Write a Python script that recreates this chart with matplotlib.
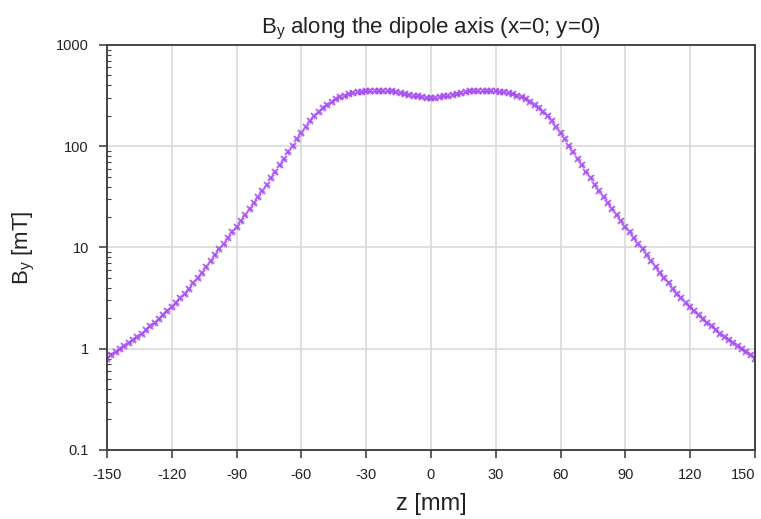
import numpy as np
import matplotlib.pyplot as plt
from matplotlib.ticker import NullFormatter, LogLocator

plt.rcParams['font.family'] = ['Liberation Sans', 'DejaVu Sans']
plt.rcParams['mathtext.fontset'] = 'custom'
plt.rcParams['mathtext.rm'] = 'Liberation Sans'
plt.rcParams['mathtext.it'] = 'Liberation Sans'

# z position [mm], 2 mm steps
z = np.arange(-150, 151, 2)

# By [mT]
by = [
    0.80, 0.86, 0.92, 0.99, 1.06, 1.13, 1.22, 1.31, 1.41, 1.53,
    1.66, 1.80, 1.96, 2.14, 2.34, 2.57, 2.84, 3.15, 3.51, 3.93,
    4.42, 4.99, 5.66, 6.46, 7.40, 8.49, 9.6, 10.9, 12.4, 14.1,
    16.0, 18.3, 20.9, 23.9, 27.4, 31.4, 36.1, 41.7, 48.2, 55.8,
    64.7, 75.2, 87.3, 101.4, 117.5, 136, 156, 177, 198, 219,
    239, 258, 275, 290, 303, 316, 326, 334, 341, 347,
    351, 353, 355, 355, 354, 352, 348, 343, 337, 330,
    323, 316, 310, 305, 301,
    300,
    301, 305, 310, 316, 323, 330, 337, 343, 348, 352,
    354, 355, 355, 353, 351, 347, 341, 334, 326, 316,
    303, 290, 275, 258, 239, 219, 198, 177, 156, 136,
    117.5, 101.4, 87.3, 75.2, 64.7, 55.8, 48.2, 41.7, 36.1, 31.4,
    27.4, 23.9, 20.9, 18.3, 16.0, 14.1, 12.4, 10.9, 9.6, 8.49,
    7.40, 6.46, 5.66, 4.99, 4.42, 3.93, 3.51, 3.15, 2.84, 2.57,
    2.34, 2.14, 1.96, 1.80, 1.66, 1.53, 1.41, 1.31, 1.22, 1.13,
    1.06, 0.99, 0.92, 0.86, 0.80,
]

xticks = [-150, -120, -90, -60, -30, 0, 30, 60, 90, 120, 150]
yticks = [0.1, 1, 10, 100, 1000]
ytick_labels = ['0.1', '1', '10', '100', '1000']

fig = plt.figure(figsize=(7.61, 5.19), dpi=100)
ax = fig.add_axes([0.1406, 0.133, 0.8514, 0.7803])

ax.plot(z, by, linestyle='none', marker='x', markersize=4.5, markeredgewidth=1.4,
        color='#a040f0', alpha=0.8)
ax.plot(z, by, linestyle='none', marker='+', markersize=4, markeredgewidth=0.8,
        color='#a040f0', alpha=0.5)

ax.set_yscale('log')
ax.set_xlim(-150, 150)
ax.set_ylim(0.1, 1000)
ax.set_xticks(xticks)
ax.set_xticklabels([str(t) for t in xticks])
ax.set_yticks(yticks)
ax.set_yticklabels(ytick_labels)
ax.yaxis.set_minor_locator(LogLocator(base=10, subs=np.arange(2, 10)))
ax.yaxis.set_minor_formatter(NullFormatter())

ax.grid(True, which='major', color='#d9d9d9', linewidth=1.2)
ax.set_axisbelow(True)

for s in ax.spines.values():
    s.set_color('#444444')
    s.set_linewidth(1.4)

ax.tick_params(axis='both', which='major', direction='out', length=6, width=1.2,
               color='#444444', labelsize=10.5, labelcolor='#222222', pad=7)
ax.tick_params(axis='y', which='minor', direction='in', length=3, width=0.8, color='#444444')
ax.get_xticklabels()[-1].set_horizontalalignment('right')

ax.set_title('B$_\\mathrm{y}$ along the dipole axis (x=0; y=0)', fontsize=16, pad=8, color='#222222')
ax.set_xlabel('z [mm]', fontsize=17, labelpad=8, color='#222222')
ax.set_ylabel('B$_\\mathrm{y}$ [mT]', fontsize=16, labelpad=14, color='#222222')

fig.savefig('out.png', dpi=100)
